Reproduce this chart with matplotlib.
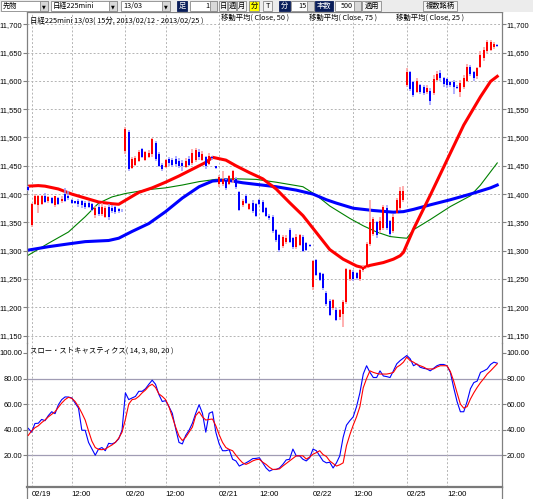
import numpy as np
import matplotlib
matplotlib.use("Agg")
import matplotlib.pyplot as plt
from matplotlib.patches import Rectangle
from matplotlib.lines import Line2D

# 日経225mini 15分足 (02/19 - 02/25), 1日 = 28本
opens = [11412,
         11345, 11383, 11380, 11383, 11397, 11387, 11393, 11380, 11393, 11388, 11400, 11396, 11390, 11387,
         11388, 11387, 11385, 11385, 11383, 11363, 11378, 11365, 11360, 11377, 11376, 11377, 11374, 11372,
         11476, 11510, 11446, 11451, 11458, 11479, 11461, 11466, 11470, 11490, 11470, 11452, 11448, 11462,
         11460, 11462, 11458, 11455, 11448, 11462, 11455, 11460, 11475, 11460, 11466, 11454, 11465, 11449,
         11418, 11417, 11424, 11418, 11424, 11427, 11403, 11380, 11397, 11374, 11385, 11382, 11390, 11386,
         11376, 11362, 11360, 11336, 11328, 11308, 11315, 11336, 11322, 11306, 11310, 11324, 11313, 11310,
         11236, 11283, 11261, 11258, 11225, 11211, 11198, 11196, 11182, 11188, 11209, 11250, 11262, 11261,
         11250, 11266, 11272, 11312, 11330, 11350, 11336, 11340, 11375, 11352, 11335, 11367, 11375, 11390,
         11592, 11615, 11598, 11580, 11592, 11590, 11580, 11583, 11578, 11602, 11614, 11605, 11603, 11598,
         11598, 11590, 11580, 11590, 11600, 11625, 11615, 11608, 11625, 11640, 11652, 11655, 11660, 11664]
highs = [11414,
         11385, 11400, 11398, 11398, 11402, 11397, 11395, 11397, 11395, 11396, 11411, 11405, 11392, 11388,
         11391, 11390, 11388, 11388, 11385, 11379, 11383, 11384, 11379, 11382, 11380, 11379, 11376, 11373,
         11518, 11513, 11465, 11468, 11478, 11481, 11476, 11478, 11499, 11493, 11475, 11455, 11462, 11465,
         11464, 11468, 11464, 11461, 11464, 11468, 11479, 11481, 11479, 11477, 11468, 11473, 11467, 11450,
         11433, 11441, 11427, 11434, 11442, 11430, 11406, 11392, 11400, 11385, 11390, 11385, 11392, 11390,
         11378, 11364, 11363, 11338, 11330, 11327, 11328, 11340, 11325, 11330, 11330, 11327, 11315, 11311,
         11284, 11285, 11263, 11260, 11228, 11214, 11214, 11199, 11197, 11212, 11270, 11268, 11266, 11263,
         11268, 11275, 11316, 11390, 11360, 11352, 11360, 11380, 11380, 11355, 11365, 11393, 11412, 11415,
         11622, 11617, 11600, 11605, 11595, 11592, 11592, 11588, 11610, 11618, 11620, 11607, 11605, 11600,
         11602, 11593, 11602, 11610, 11630, 11628, 11618, 11624, 11652, 11660, 11672, 11673, 11668, 11666]
lows = [11405,
        11342, 11380, 11367, 11380, 11384, 11385, 11382, 11377, 11381, 11385, 11386, 11389, 11383, 11383,
        11378, 11376, 11373, 11376, 11370, 11358, 11361, 11361, 11358, 11355, 11367, 11364, 11367, 11369,
        11470, 11440, 11444, 11449, 11456, 11463, 11459, 11464, 11466, 11458, 11448, 11441, 11446, 11450,
        11448, 11450, 11446, 11441, 11446, 11450, 11452, 11457, 11460, 11458, 11444, 11452, 11461, 11444,
        11412, 11415, 11408, 11416, 11420, 11409, 11370, 11378, 11383, 11372, 11367, 11360, 11380, 11366,
        11360, 11355, 11332, 11315, 11298, 11305, 11312, 11314, 11303, 11303, 11308, 11297, 11300, 11307,
        11231, 11255, 11246, 11231, 11202, 11184, 11196, 11175, 11178, 11166, 11206, 11246, 11246, 11248,
        11246, 11263, 11270, 11308, 11326, 11323, 11332, 11336, 11336, 11326, 11332, 11365, 11372, 11386,
        11590, 11582, 11571, 11578, 11576, 11575, 11576, 11557, 11575, 11600, 11600, 11590, 11588, 11590,
        11577, 11586, 11572, 11585, 11598, 11608, 11600, 11604, 11622, 11635, 11650, 11652, 11657, 11659]
closes = [11408,
          11383, 11396, 11396, 11396, 11386, 11395, 11384, 11396, 11383, 11392, 11388, 11393, 11385, 11385,
          11382, 11380, 11378, 11377, 11372, 11376, 11365, 11378, 11375, 11360, 11370, 11368, 11370, 11371,
          11515, 11444, 11462, 11464, 11475, 11465, 11474, 11472, 11497, 11462, 11450, 11444, 11460, 11455,
          11452, 11454, 11450, 11449, 11458, 11452, 11472, 11478, 11465, 11470, 11450, 11468, 11463, 11446,
          11430, 11427, 11410, 11432, 11440, 11412, 11372, 11388, 11385, 11382, 11370, 11362, 11382, 11368,
          11362, 11358, 11335, 11318, 11302, 11324, 11322, 11316, 11306, 11325, 11328, 11300, 11302, 11308,
          11282, 11257, 11248, 11234, 11205, 11186, 11212, 11177, 11195, 11210, 11267, 11265, 11250, 11252,
          11265, 11271, 11312, 11350, 11356, 11328, 11352, 11378, 11340, 11330, 11360, 11390, 11405, 11406,
          11615, 11585, 11575, 11600, 11580, 11578, 11588, 11565, 11604, 11612, 11605, 11595, 11592, 11592,
          11590, 11588, 11596, 11605, 11625, 11612, 11605, 11622, 11645, 11655, 11668, 11668, 11665, 11661]

# 移動平均 (読み取り点: 足番号, 値)
ma50_bar = [0, 3, 5, 9, 13, 17, 21, 25, 27, 29, 33, 37, 41, 45, 49, 53, 55, 59, 62, 66, 70, 74, 78,
            82, 86, 90, 94, 98, 100, 102, 106, 109, 111, 112, 115, 120, 125, 130, 135, 138, 140]
ma50_val = [11414, 11415, 11414, 11409, 11400, 11393, 11386, 11383, 11382, 11389, 11403, 11411, 11421,
            11432, 11444, 11456, 11465, 11460, 11450, 11438, 11427, 11409, 11385, 11362, 11332, 11302,
            11285, 11273, 11270, 11274, 11279, 11285, 11291, 11297, 11338, 11398, 11460, 11522, 11572,
            11599, 11608]
ma75_bar = [0, 6, 12, 17, 24, 27, 31, 36, 41, 46, 51, 55, 59, 64, 74, 80, 85, 89, 92, 97, 103, 109,
            112, 115, 120, 126, 132, 138, 140]
ma75_val = [11301, 11307, 11312, 11316, 11318, 11322, 11334, 11348, 11369, 11393, 11413, 11423, 11425,
            11420, 11413, 11407, 11400, 11390, 11384, 11375, 11371, 11368, 11369, 11373, 11381, 11390,
            11400, 11411, 11416]
ma25_bar = [0, 6, 12, 17, 21, 25, 29, 36, 41, 46, 51, 56, 62, 68, 74, 82, 86, 90, 96, 100, 104, 108,
            111, 113, 115, 120, 126, 132, 135, 140]
ma25_val = [11292, 11313, 11333, 11360, 11384, 11395, 11401, 11408, 11411, 11416, 11422, 11426, 11427,
            11426, 11421, 11413, 11398, 11379, 11357, 11344, 11333, 11325, 11323, 11322, 11337, 11355,
            11378, 11397, 11416, 11455]

# スロー・ストキャスティクス %K(青) / %D(赤)
stoch_k = [41, 38, 44.8, 45, 48, 47, 51, 54, 52.5, 59.5,
           63.5, 65.6, 65.5, 64.8, 60.8, 56.8, 39.5, 39.5, 30, 25,
           20, 24.8, 26, 23.5, 29.3, 28.8, 30, 32.8, 39.5, 68.8,
           63.5, 64.8, 66, 70, 70, 72, 75.5, 78.7, 75.5, 67.5,
           62, 62.7, 58, 52.8, 40.8, 30, 28.8, 35.5, 39.5, 45,
           52.8, 59.5, 52.8, 38, 52.8, 54, 38, 28.8, 23.5, 23.5,
           24.3, 16.8, 15.5, 11.5, 12.8, 14, 15.5, 17.3, 17.5, 18,
           14, 10, 7.5, 8.8, 8.8, 10, 12.8, 16.3, 16.8, 24.8,
           19.5, 19.5, 16.8, 15.5, 18, 24.8, 23.5, 19.5, 15.5, 14,
           14.5, 10, 14, 19.5, 34, 43.5, 47, 50, 58, 68.8,
           83.5, 90, 84.8, 80.8, 80.8, 86, 82, 81.5, 80.8, 86,
           91.5, 94, 96, 98, 95.5, 90, 91.5, 88.8, 88, 87.5,
           86, 88, 90, 91, 91, 90, 84.8, 72.8, 62, 54,
           54, 62, 72, 76.8, 78, 84.8, 86, 87.5, 91, 92.8,
           92]
stoch_d = [35.5, 39, 41.5, 43, 45.5, 47.5, 50, 52, 54, 57.5,
           60.8, 63.5, 65.3, 64.5, 62, 58, 53, 47.5, 39, 31,
           26, 24.5, 24.3, 24.8, 26.5, 28, 30, 33.3, 38, 48,
           60, 63.5, 64, 66, 68.8, 71, 74, 75.5, 73, 68,
           66, 63.5, 58, 50, 42, 35, 31.5, 34, 38, 42,
           51, 54, 50, 47.5, 48, 48.3, 43, 36, 30, 26,
           24.5, 23.5, 20, 16.8, 14, 12.8, 14, 15.5, 16.5, 16.8,
           14.5, 12.8, 10.5, 8.8, 9, 9.3, 11.5, 13.5, 15.5, 17.5,
           19.5, 19.5, 19.5, 17, 18.5, 20.8, 22, 23.5, 20.5, 19,
           15.5, 13.5, 11.5, 12.5, 14, 27.5, 36, 43.5, 50, 58,
           72.8, 80, 86, 84.8, 84, 83.5, 83.5, 83.5, 84, 84.8,
           88.8, 90.5, 92.8, 96.8, 94, 92.8, 91, 90, 89, 87.5,
           87.5, 87.5, 89, 90, 90, 90, 85.5, 78, 68.8, 60,
           56.8, 58, 64, 68.8, 73, 76.8, 80, 83.5, 86, 88.8,
           91.5]

date_labels = ["02/19", "12:00", "02/20", "12:00", "02/21", "12:00", "02/22", "12:00", "02/25", "12:00"]
date_bars = [1, 13, 29, 41, 57, 69, 85, 97, 113, 125]

price_ticks = list(range(11150, 11701, 50))
stoch_ticks = [20, 40, 60, 80, 100]

W, H = 533, 499
JP = ["Noto Sans CJK JP", "DejaVu Sans"]
NUM = "Liberation Sans"
GRID = "#b4b4b4"
AXC = "#808080"


def fx(px):
    return px / W


def fy(py):
    return 1 - py / H


fig = plt.figure(figsize=(W / 100, H / 100), dpi=100)
fig.patch.set_facecolor("white")

left, right = 27.2, 501.7
ax = fig.add_axes([fx(left), fy(343), (right - left) / W, (343 - 12) / H])
ax2 = fig.add_axes([fx(left), fy(486.5), (right - left) / W, (486.5 - 343) / H])

bars = np.arange(len(closes))
xlim = (-0.31, 141.33)

# --- 価格パネル ---
for p in price_ticks:
    ax.axhline(p, color=GRID, lw=0.7, ls=(0, (2, 2)), zorder=0)
for b in date_bars:
    ax.axvline(b, color=GRID, lw=0.7, ls=(0, (2, 2)), zorder=0)

ax.plot(ma25_bar, ma25_val, color="#008000", lw=0.8, zorder=2)
ax.plot(ma75_bar, ma75_val, color="#0000ff", lw=2.2, zorder=2)
ax.plot(ma50_bar, ma50_val, color="#ff0000", lw=2.2, zorder=2)

o = np.array(opens); c = np.array(closes)
up = c >= o
wick_col = np.where(up, "#ff9a9a", "#9a9aff")
body_col = np.where(up, "#ff0000", "#0000ff")
ax.vlines(bars, lows, highs, colors=wick_col, lw=1.1, zorder=3)
body_h = np.maximum(np.abs(c - o), 1.5)
ax.bar(bars, body_h, bottom=np.minimum(o, c), width=0.6, color=body_col, lw=0, zorder=4)

ax.set_xlim(*xlim)
ax.set_ylim(11136.9, 11721.7)
ax.set_xticks([])
ax.set_yticks(price_ticks)
ax.set_yticklabels([f"{p:,}" for p in price_ticks], fontfamily=NUM)
ax.tick_params(axis="y", left=True, right=True, labelleft=True, labelright=True,
               length=3, width=0.8, color=AXC, labelsize=5.4, pad=0.6)
for side in ["left", "right", "top"]:
    ax.spines[side].set_color(AXC)
    ax.spines[side].set_linewidth(0.9)
ax.spines["bottom"].set_visible(False)
ax.patch.set_alpha(0)

ax.text(0.006, 0.985, "日経225mini 13/03( 15分, 2013/02/12 - 2013/02/25 )", transform=ax.transAxes,
        fontsize=5.3, family=JP, va="top", ha="left")
for xp, s in [(221, "移動平均( Close, 50 )"), (309, "移動平均( Close, 75 )"), (396, "移動平均( Close, 25 )")]:
    fig.text(fx(xp), fy(13.5), s, fontsize=5.3, family=JP, va="top", ha="left")

# --- ストキャスティクス ---
for v in [60, 40]:
    ax2.axhline(v, color=GRID, lw=0.7, ls=(0, (2, 2)), zorder=0)
for v in [80, 20]:
    ax2.axhline(v, color="#a09cb4", lw=0.9, zorder=0)
for b in date_bars:
    ax2.axvline(b, color=GRID, lw=0.7, ls=(0, (2, 2)), zorder=0)

ax2.plot(bars, stoch_k, color="#0000ff", lw=0.8, zorder=2)
ax2.plot(bars, stoch_d, color="#ff0000", lw=0.8, zorder=3)

ax2.set_xlim(*xlim)
ax2.set_ylim(-4.5, 107.8)
ax2.set_yticks(stoch_ticks)
ax2.set_yticklabels([f"{v:.2f}" for v in stoch_ticks], fontfamily=NUM)
ax2.tick_params(axis="y", left=True, right=True, labelleft=True, labelright=True,
                length=3, width=0.8, color=AXC, labelsize=5.4, pad=0.6)
ax2.set_xticks(date_bars)
ax2.set_xticklabels(date_labels, fontfamily=NUM)
ax2.tick_params(axis="x", length=0, labelsize=5.6, pad=3)
for lbl in ax2.get_xticklabels():
    lbl.set_ha("left")
for side in ["left", "right"]:
    ax2.spines[side].set_color(AXC)
    ax2.spines[side].set_linewidth(0.9)
ax2.spines["top"].set_visible(False)
ax2.spines["bottom"].set_color("#7a7a7a")
ax2.spines["bottom"].set_linewidth(1.6)
ax2.patch.set_alpha(0)
ax2.text(0.006, 0.975, "スロー・ストキャスティクス( 14, 3, 80, 20 )", transform=ax2.transAxes,
         fontsize=5.3, family=JP, va="top", ha="left")

# 軸線を下端まで延長
for xp in [left, right]:
    fig.add_artist(Line2D([fx(xp), fx(xp)], [fy(486.5), 0], transform=fig.transFigure,
                          color=AXC, lw=0.9))

# --- ツールバー ---
fig.add_artist(Rectangle((0, fy(12)), 1, 12 / H, transform=fig.transFigure,
                         facecolor="#ececec", edgecolor="none"))


def box(x0, x1, face, edge="#8a8a8a", y0=1, y1=11):
    fig.add_artist(Rectangle((fx(x0), fy(y1)), (x1 - x0) / W, (y1 - y0) / H,
                             transform=fig.transFigure, facecolor=face, edgecolor=edge, lw=0.6))


def label(x, s, color="black", ha="left"):
    fig.text(fx(x), fy(6.2), s, fontsize=5.2, family=JP, color=color, va="center", ha=ha)


for x0, x1, s in [(1, 48, "先物"), (51, 117, "日経225mini"), (121, 170, "13/03")]:
    box(x0, x1, "white")
    box(x1 - 8, x1, "#d8d8d8")
    label(x0 + 2, s)
    fig.text(fx(x1 - 4), fy(6.5), "▼", fontsize=3.5, ha="center", va="center")

for x0, x1, s in [(177, 187, "足"), (279, 290, "分"), (315, 333, "本数")]:
    box(x0, x1, "#0a1e5a", edge="#0a1e5a")
    label((x0 + x1) / 2, s, color="white", ha="center")

for x0, x1, s in [(190, 217, "1"), (291, 314, "15"), (335, 361, "500")]:
    box(x0, x1, "white")
    box(x1 - 7, x1, "#d8d8d8")
    label(x1 - 8, s, ha="right")

for x0, x1, s, face in [(219, 227, "日", "#f4f4f4"), (228, 236, "週", "#f4f4f4"),
                        (237, 246, "月", "#f4f4f4"), (249, 259, "分", "#ffff00"),
                        (263, 272, "T", "#f4f4f4"), (362, 381, "適用", "#f4f4f4"),
                        (423, 457, "複数銘柄", "#f4f4f4")]:
    box(x0, x1, face)
    label((x0 + x1) / 2, s, ha="center")

fig.savefig("out.png", dpi=100)
